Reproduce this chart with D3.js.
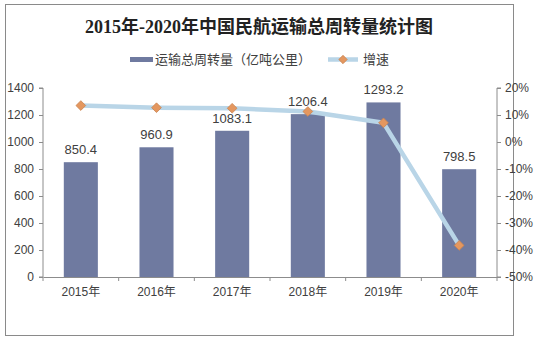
<!DOCTYPE html>
<html><head><meta charset="utf-8">
<script src="https://cdn.jsdelivr.net/npm/d3@7/dist/d3.min.js"></script>
<style>body{margin:0;background:#fff}svg{display:block}</style>
</head><body>
<svg id="c" width="544" height="347"></svg>
<script>
const categories = ["2015年","2016年","2017年","2018年","2019年","2020年"];
const volume = [850.4, 960.9, 1083.1, 1206.4, 1293.2, 798.5];
const growth = [13.5, 12.7, 12.5, 11.3, 7.1, -38.3];
const leftTicks = [0,200,400,600,800,1000,1200,1400];
const rightTicks = [-50,-40,-30,-20,-10,0,10,20];

const svg = d3.select("#c");
const font = "'Liberation Sans','Noto Sans CJK SC',sans-serif";
const txt = "#404040";
const axisCol = "#8c8c8c";

svg.append("rect").attr("x",5.5).attr("y",4.5).attr("width",508).attr("height",331)
  .attr("fill","#fff").attr("stroke","#8a8a8a").attr("stroke-width",1);

svg.append("text").attr("x",259).attr("y",33).attr("text-anchor","middle")
  .attr("font-family","'Liberation Serif','Noto Sans CJK SC',serif").attr("font-weight","bold")
  .attr("font-size",18).attr("fill","#222").text("2015年-2020年中国民航运输总周转量统计图");

const L = 43, R = 497, T = 88, B = 277;
const x = d3.scaleBand().domain(categories).range([L,R]).paddingInner(0.55).paddingOuter(0.275);
const xc = d3.scaleBand().domain(categories).range([L,R]);
const y = d3.scaleLinear().domain([0,1400]).range([B,T]);
const y2 = d3.scaleLinear().domain([-50,20]).range([B,T]);

// bars
svg.selectAll("rect.bar").data(volume).enter().append("rect").attr("class","bar")
  .attr("x",(d,i)=>x(categories[i])).attr("width",x.bandwidth())
  .attr("y",d=>y(d)).attr("height",d=>B-y(d)).attr("fill","#6f7aa0");

// axes
const gl = svg.append("g").attr("transform",`translate(${L},0)`)
  .call(d3.axisLeft(y).tickValues(leftTicks).tickSize(4).tickPadding(5).tickFormat(d3.format("d")));
const gr = svg.append("g").attr("transform",`translate(${R},0)`)
  .call(d3.axisRight(y2).tickValues(rightTicks).tickSize(4).tickPadding(4).tickFormat(d=>d+"%"));
const gb = svg.append("g").attr("transform",`translate(0,${B})`)
  .call(d3.axisBottom(xc).tickSize(0).tickPadding(10));
svg.selectAll("line.sep").data(d3.range(categories.length+1)).enter().append("line")
  .attr("x1",i=>L+i*xc.step()).attr("x2",i=>L+i*xc.step()).attr("y1",B).attr("y2",B+4)
  .attr("stroke",axisCol);
[gl,gr,gb].forEach(g=>{
  g.selectAll("path.domain").attr("stroke",axisCol);
  g.selectAll(".tick line").attr("stroke",axisCol);
  g.selectAll("text").attr("font-family",font).attr("font-size",12).attr("fill",txt);
});
gl.select("path.domain").attr("d",`M-4,${B}H0V${T}H-4`);
gr.select("path.domain").attr("d",`M4,${B}H0V${T}H4`);

// line
const line = d3.line().x((d,i)=>xc(categories[i])+xc.bandwidth()/2).y(d=>y2(d));
svg.append("path").datum(growth).attr("d",line).attr("fill","none")
  .attr("stroke","#b9d5e7").attr("stroke-width",4.5).attr("stroke-linejoin","round");
const diamond = d3.symbol().type(d3.symbolDiamond2).size(60);
svg.selectAll("path.mk").data(growth).enter().append("path").attr("class","mk")
  .attr("d",diamond)
  .attr("transform",(d,i)=>`translate(${xc(categories[i])+xc.bandwidth()/2},${y2(d)})`)
  .attr("fill","#e4975f").attr("stroke","#c98450").attr("stroke-width",0.8);

// data labels
svg.selectAll("text.lbl").data(volume).enter().append("text").attr("class","lbl")
  .attr("x",(d,i)=>x(categories[i])+x.bandwidth()/2).attr("y",d=>y(d)-8)
  .attr("text-anchor","middle").attr("font-family",font).attr("font-size",13).attr("fill",txt)
  .text(d=>d.toFixed(1));

// legend
const lg = svg.append("g");
lg.append("rect").attr("x",130).attr("y",57).attr("width",23).attr("height",5).attr("fill","#6f7aa0");
lg.append("text").attr("x",155).attr("y",64).attr("font-family",font).attr("font-size",13)
  .attr("fill",txt).text("运输总周转量（亿吨公里）");
lg.append("line").attr("x1",328).attr("x2",358).attr("y1",59.5).attr("y2",59.5)
  .attr("stroke","#b9d5e7").attr("stroke-width",4.5);
lg.append("path").attr("d",d3.symbol().type(d3.symbolDiamond2).size(45)).attr("transform","translate(343,59.5)")
  .attr("fill","#e4975f").attr("stroke","#c98450").attr("stroke-width",0.8);
lg.append("text").attr("x",363).attr("y",64).attr("font-family",font).attr("font-size",13)
  .attr("fill",txt).text("增速");
</script>
</body></html>
